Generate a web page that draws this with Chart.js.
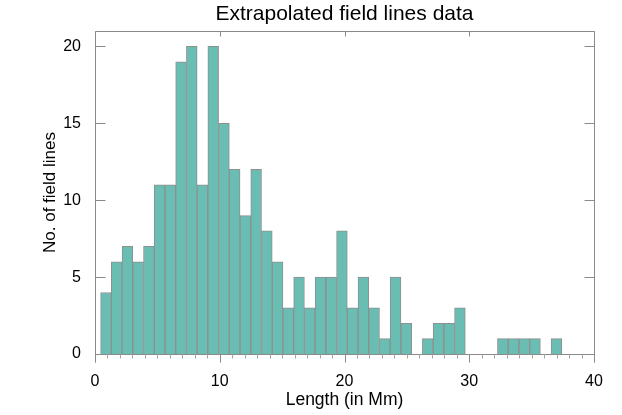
<!DOCTYPE html>
<html>
<head>
<meta charset="utf-8">
<script src="https://cdn.jsdelivr.net/npm/chart.js@4/dist/chart.umd.min.js"></script>
<style>
  html, body { margin: 0; padding: 0; background: #fff; }
  #wrap { width: 622px; height: 415px; position: relative; }
</style>
</head>
<body>
<div id="wrap"><canvas id="hist"></canvas></div>
<script>
const TITLE   = 'Extrapolated field lines data';
const X_TITLE = 'Length (in Mm)';
const Y_TITLE = 'No. of field lines';

// histogram: 46 bins from BIN_START to 40 Mm
const BIN_START = 0.45;
const BIN_WIDTH = (40 - BIN_START) / 46;
const COUNTS = [4, 6, 7, 6, 7, 11, 11, 19, 20, 11, 20, 15, 12, 9, 12, 8, 6, 3, 5, 3,
                5, 5, 8, 3, 5, 3, 1, 5, 2, 0, 1, 2, 2, 3, 0, 0, 0, 1, 1, 1,
                1, 0, 1, 0, 0, 0];

const X_MAJOR = [0, 10, 20, 30, 40];
const X_MINOR = [1, 2, 3, 4, 5, 6, 7, 8, 9, 11, 12, 13, 14, 15, 16, 17, 18, 19,
                 21, 22, 23, 24, 25, 26, 27, 28, 29, 31, 32, 33, 34, 35, 36, 37, 38, 39];
const Y_MAJOR = [0, 5, 10, 15, 20];

const FILL  = '#6abdb2';
const EDGE  = '#8f8f8f';
const FRAME = '#8a8a8a';
const FONT  = "'Liberation Sans', Arial, sans-serif";

const points = COUNTS.map((c, i) => ({ x: BIN_START + (i + 0.5) * BIN_WIDTH, y: c }));

/* frame + IDL style ticks */
const framePlugin = {
  id: 'frame',
  afterDraw(chart) {
    const { ctx, chartArea: a, scales: { x, y } } = chart;
    ctx.save();
    ctx.strokeStyle = FRAME;
    ctx.lineWidth = 1;
    const line = (x1, y1, x2, y2) => {
      ctx.beginPath(); ctx.moveTo(x1, y1); ctx.lineTo(x2, y2); ctx.stroke();
    };
    const L = Math.round(a.left) + 0.5, R = Math.round(a.right) + 0.5;
    const T = Math.round(a.top) + 0.5, B = Math.round(a.bottom) + 0.5;
    line(L, T, R, T);
    line(L, B, R, B);
    line(L, T, L, B + 8);
    line(R, T, R, B + 8);
    X_MAJOR.forEach(v => {
      const px = Math.round(x.getPixelForValue(v)) + 0.5;
      line(px, B, px, B + 8);
      line(px, T, px, T + 5);
    });
    ctx.strokeStyle = '#a5a5a5';
    X_MINOR.forEach(v => {
      const px = Math.round(x.getPixelForValue(v)) + 0.5;
      line(px, B, px, B + 4);
    });
    ctx.strokeStyle = FRAME;
    Y_MAJOR.forEach(v => {
      const py = Math.round(y.getPixelForValue(v)) + 0.5;
      line(L, py, L + 10, py);
      line(R, py, R - 10, py);
    });
    ctx.fillStyle = '#000';
    ctx.font = '21px ' + FONT;
    ctx.textAlign = 'center';
    ctx.textBaseline = 'middle';
    ctx.fillText(TITLE, (a.left + a.right) / 2, 14);
    ctx.restore();
  }
};

new Chart(document.getElementById('hist'), {
  type: 'bar',
  data: {
    datasets: [{
      data: points,
      backgroundColor: FILL,
      borderColor: EDGE,
      borderWidth: 1,
      barPercentage: 1,
      categoryPercentage: 1
    }]
  },
  options: {
    responsive: true,
    maintainAspectRatio: false,
    animation: false,
    layout: { padding: { top: 31, right: 28, left: 0, bottom: 0 } },
    plugins: { legend: { display: false }, tooltip: { enabled: false } },
    scales: {
      x: {
        type: 'linear', min: 0, max: 40, offset: false,
        grid: { display: false }, border: { display: false },
        afterBuildTicks: s => { s.ticks = X_MAJOR.map(v => ({ value: v })); },
        ticks: { padding: 10, autoSkip: false, color: '#000', font: { family: FONT, size: 16 }, maxRotation: 0 },
        title: { display: true, text: X_TITLE, color: '#000', font: { family: FONT, size: 17.5 }, padding: { top: 0, bottom: 4 } },
        afterFit: s => { s.height = 61; }
      },
      y: {
        min: 0, max: 21,
        grid: { display: false }, border: { display: false },
        afterBuildTicks: s => { s.ticks = Y_MAJOR.map(v => ({ value: v })); },
        ticks: { padding: 6, autoSkip: false, color: '#000', font: { family: FONT, size: 16 } },
        title: { display: true, text: Y_TITLE, color: '#000', font: { family: FONT, size: 17 }, padding: { top: 40, bottom: 0 } },
        afterFit: s => { s.width = 95; }
      }
    }
  },
  plugins: [framePlugin]
});
</script>
</body>
</html>
